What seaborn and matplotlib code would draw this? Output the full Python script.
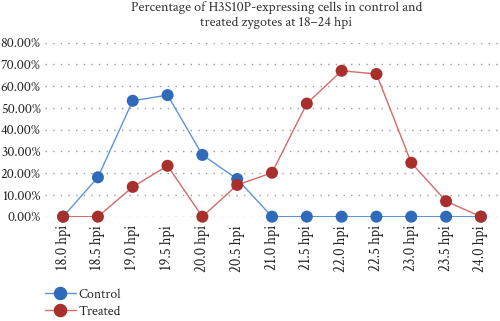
import matplotlib
matplotlib.use("Agg")
import matplotlib.pyplot as plt
from matplotlib.lines import Line2D
from matplotlib.ticker import FuncFormatter, MultipleLocator
import seaborn as sns
import pandas as pd

categories = ["18.0 hpi", "18.5 hpi", "19.0 hpi", "19.5 hpi", "20.0 hpi", "20.5 hpi",
              "21.0 hpi", "21.5 hpi", "22.0 hpi", "22.5 hpi", "23.0 hpi", "23.5 hpi", "24.0 hpi"]
control = [0.0, 18.1, 53.3, 55.9, 28.4, 17.3, 0.0, 0.0, 0.0, 0.0, 0.0, 0.0, 0.0]
treated = [0.0, 0.0, 13.7, 23.4, 0.0, 14.6, 20.2, 52.0, 67.1, 65.6, 24.8, 7.1, 0.0]
series_names = ["Control", "Treated"]
title_text = "Percentage of H3S10P-expressing cells in control and\ntreated zygotes at 18\u201324 hpi"

line_colors = {"Control": "#5E93D8", "Treated": "#D66A68"}
marker_colors = {"Control": "#2F6BBA", "Treated": "#A8302C"}

df = pd.DataFrame({
    "x": list(range(len(categories))) * 2,
    "value": control + treated,
    "series": ["Control"] * len(categories) + ["Treated"] * len(categories),
})

sns.set_style("white")
plt.rcParams["font.family"] = ["Crimson Text", "Liberation Serif", "DejaVu Serif"]

fig = plt.figure(figsize=(5.0, 3.21), dpi=100)
ax = fig.add_axes([0.09, 0.325, 0.908, 0.542])

sns.lineplot(data=df, x="x", y="value", hue="series", palette=line_colors,
             linewidth=1.0, legend=False, ax=ax, zorder=2)
for name in series_names:
    sub = df[df["series"] == name]
    ax.scatter(sub["x"], sub["value"], s=75, color=marker_colors[name],
               edgecolors="none", zorder=3 if name == "Control" else 4, clip_on=False)

ax.set_xlim(-0.52, len(categories) - 0.48)
ax.set_ylim(0, 80)
ax.yaxis.set_major_locator(MultipleLocator(10))
ax.yaxis.set_major_formatter(FuncFormatter(lambda v, p: f"{v:.2f}%"))
ax.set_xticks(range(len(categories)))
ax.set_xticklabels(categories, rotation=90)
ax.tick_params(axis="both", length=0, colors="#222222")
ax.tick_params(axis="x", labelsize=10.5, pad=6)
ax.tick_params(axis="y", labelsize=10.2, pad=3)
ax.grid(axis="y", linestyle=(0, (1, 4.5)), color="#9a9a9a", linewidth=1.0)
ax.grid(axis="x", visible=False)
for s in ax.spines.values():
    s.set_visible(False)
ax.set_xlabel("")
ax.set_ylabel("")

fig.text(0.553, 0.997, title_text, ha="center", va="top", fontsize=10.2,
         color="#333333", linespacing=1.3)

handles = [Line2D([0], [0], color=line_colors[n], marker="o", markersize=8.7,
                  markerfacecolor=marker_colors[n], markeredgecolor=marker_colors[n],
                  linewidth=1.0) for n in series_names]
fig.legend(handles, series_names, loc="lower left", bbox_to_anchor=(0.065, -0.03),
           frameon=False, fontsize=10, handlelength=2.2, handletextpad=0.2,
           labelspacing=0.3)

fig.savefig("out.png", dpi=100)
